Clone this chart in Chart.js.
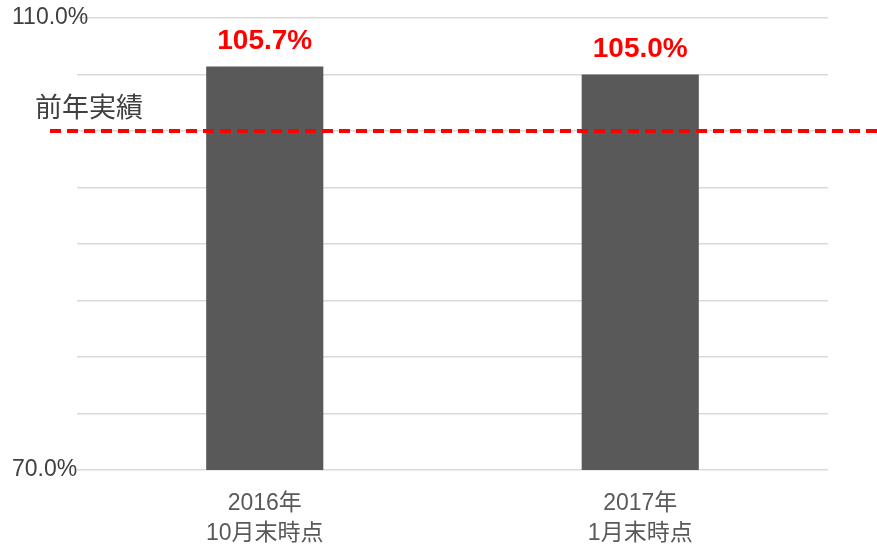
<!DOCTYPE html>
<html>
<head>
<meta charset="utf-8">
<script src="https://cdn.jsdelivr.net/npm/chart.js@4"></script>
<style>
  html, body { margin: 0; padding: 0; background: #fff; }
  #wrap { width: 877px; height: 548px; }
</style>
</head>
<body>
<div id="wrap"><canvas id="chart"></canvas></div>
<script>
// chart data
const categories = [['2016年', '10月末時点'], ['2017年', '1月末時点']];
const values = [105.7, 105.0];
const priorYear = 100;          // 前年実績 line
const priorLabel = '前年実績';
const yMin = 70, yMax = 110, yStep = 5;
const shownTicks = [70, 110];   // only these get labels

const fontFamily = '"Liberation Sans", Arial, "Noto Sans CJK JP", sans-serif';

// draws the red value labels above each bar
const valueLabels = {
  id: 'valueLabels',
  afterDatasetsDraw(chart) {
    const ctx = chart.ctx;
    const meta = chart.getDatasetMeta(0);
    ctx.save();
    ctx.fillStyle = '#ff0000';
    ctx.font = 'bold 28px ' + fontFamily;
    ctx.textAlign = 'center';
    ctx.textBaseline = 'alphabetic';
    meta.data.forEach((bar, i) => {
      ctx.fillText(values[i].toFixed(1) + '%', bar.x, bar.y - 18);
    });
    ctx.restore();
  }
};

// dashed prior-year line, drawn through the y scale
const priorLine = {
  id: 'priorLine',
  afterDraw(chart) {
    const ctx = chart.ctx;
    const y = chart.scales.y.getPixelForValue(priorYear);
    ctx.save();
    ctx.strokeStyle = '#ff0000';
    ctx.lineWidth = 4;
    ctx.setLineDash([11, 6]);
    ctx.beginPath();
    ctx.moveTo(50, y);
    ctx.lineTo(chart.width, y);
    ctx.stroke();
    ctx.setLineDash([]);
    ctx.fillStyle = '#404040';
    ctx.font = '27px "Noto Sans CJK JP", sans-serif';
    ctx.textAlign = 'left';
    ctx.textBaseline = 'middle';
    ctx.fillText(priorLabel, 35, y - 24);
    ctx.restore();
  }
};

new Chart(document.getElementById('chart'), {
  type: 'bar',
  data: {
    labels: categories,
    datasets: [{
      data: values,
      backgroundColor: '#595959',
      categoryPercentage: 1,
      barPercentage: 0.312
    }]
  },
  options: {
    responsive: true,
    maintainAspectRatio: false,
    animation: false,
    layout: { padding: { top: 18, right: 49, left: 0, bottom: 0 } },
    plugins: {
      legend: { display: false },
      tooltip: { enabled: false }
    },
    scales: {
      x: {
        grid: { display: false },
        border: { display: false },
        ticks: {
          color: '#595959',
          padding: 11,
          font: { family: fontFamily, size: 23, lineHeight: 1.3 }
        },
        afterFit(scale) { scale.height = 78; }
      },
      y: {
        min: yMin,
        max: yMax,
        border: { display: false },
        grid: { color: '#d9d9d9', lineWidth: 1.5, drawTicks: false },
        ticks: {
          stepSize: yStep,
          color: '#404040',
          mirror: true,       // mirrored so the labels are not clipped at the axis edge
          padding: -65,
          z: 1,
          font: { family: fontFamily, size: 23 },
          callback: (v) => shownTicks.includes(v) ? v.toFixed(1) + '%' : ''
        },
        afterFit(scale) { scale.width = 77; }
      }
    }
  },
  plugins: [valueLabels, priorLine]
});
</script>
</body>
</html>
